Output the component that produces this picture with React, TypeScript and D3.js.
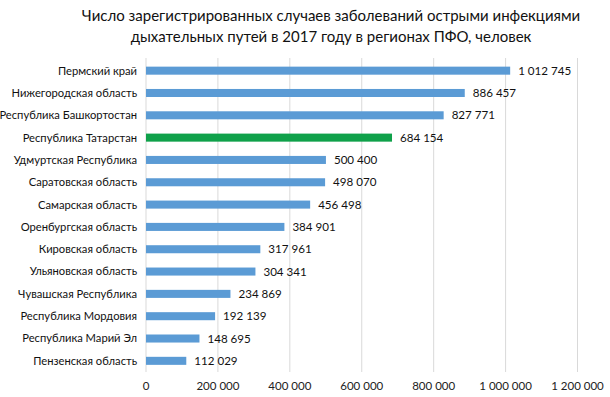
import React from "react";
import * as d3 from "d3";

const regions = [
  "Пермский край",
  "Нижегородская область",
  "Республика Башкортостан",
  "Республика Татарстан",
  "Удмуртская Республика",
  "Саратовская область",
  "Самарская область",
  "Оренбургская область",
  "Кировская область",
  "Ульяновская область",
  "Чувашская Республика",
  "Республика Мордовия",
  "Республика Марий Эл",
  "Пензенская область",
];
const cases = [1012745, 886457, 827771, 684154, 500400, 498070, 456498, 384901, 317961, 304341, 234869, 192139, 148695, 112029];
const highlight = "Республика Татарстан";
const ticks = [0, 200000, 400000, 600000, 800000, 1000000, 1200000];
const titleLines = [
  "Число зарегистрированных случаев заболеваний острыми инфекциями",
  "дыхательных путей в 2017 году в регионах ПФО, человек",
];

const fmt = (v: number) => d3.format(",")(v).replace(/,/g, " ");
const FONT = "Lato, 'Open Sans', 'Liberation Sans', sans-serif";

export default function App() {
  const W = 610, H = 397;
  const x = d3.scaleLinear().domain([0, 1200000]).range([146, 577.5]);
  const y = d3.scaleBand().domain(regions).range([59.5, 372]).paddingInner(0.64).paddingOuter(0.32);
  return (
    <svg width={W} height={H} style={{ position: "absolute", left: 0, top: 0, background: "#fff" }} fontFamily={FONT}>
      {titleLines.map((t, i) => (
        <text key={i} x={331} y={21 + i * 21} textAnchor="middle" fontSize={15} fill="#111">{t}</text>
      ))}
      {ticks.map((t) => (
        <g key={t}>
          <line x1={x(t)} x2={x(t)} y1={58} y2={372} stroke="#d9d9d9" strokeWidth={1} />
          <text x={x(t)} y={390} textAnchor="middle" fontSize={11.5} fill="#222">{fmt(t)}</text>
        </g>
      ))}
      {regions.map((r, i) => {
        const yy = y(r)!;
        const bh = y.bandwidth();
        return (
          <g key={r}>
            <rect x={x(0)} y={yy} width={x(cases[i]) - x(0)} height={bh} fill={r === highlight ? "#0fa14a" : "#5b9bd5"} />
            <text x={137} y={yy + bh / 2} dy="0.35em" textAnchor="end" fontSize={11.2} fill="#111">{r}</text>
            <text x={x(cases[i]) + 8} y={yy + bh / 2} dy="0.35em" fontSize={11.6} fill="#111">{fmt(cases[i])}</text>
          </g>
        );
      })}
    </svg>
  );
}
